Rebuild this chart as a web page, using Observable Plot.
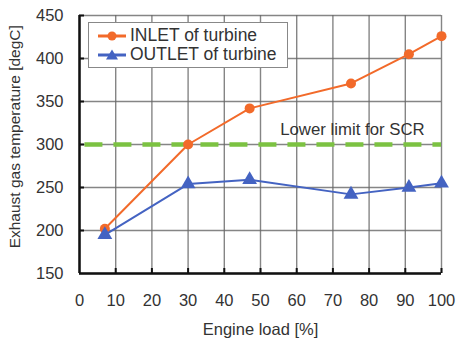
<!DOCTYPE html>
<html><head><meta charset="utf-8">
<script src="https://cdn.jsdelivr.net/npm/d3@7"></script>
<script src="https://cdn.jsdelivr.net/npm/@observablehq/plot@0.6"></script>
<style>
body{margin:0;background:#fff;}
#wrap{position:relative;width:458px;height:341px;font-family:"Liberation Sans",Arial,sans-serif;}
#legend{position:absolute;left:88px;top:22px;width:200px;height:46px;border:1.5px solid #888;background:#fff;box-sizing:border-box;font-size:17.5px;color:#333;}
#legend div{position:absolute;left:8px;display:flex;align-items:center;height:19px;white-space:nowrap;}
#legend svg{margin-right:3px;}
</style>
</head><body>
<div id="wrap"></div>
<script>
const load = [7, 30, 47, 75, 91, 100];
const inlet = [202, 300, 342, 371, 405, 426];
const outlet = [195, 254, 259, 242, 250, 255];
const seriesNames = ["INLET of turbine", "OUTLET of turbine"];
const limitValue = 300;
const limitLabel = "Lower limit for SCR";
const xLabel = "Engine load [%]";
const yLabel = "Exhaust gas temperature [degC]";
const xTicks = [0,10,20,30,40,50,60,70,80,90,100];
const yTicks = [150,200,250,300,350,400,450];

const orange = "#f26a2a", blue = "#4463c2", green = "#7cc242";
const inletData = load.map((x,i)=>({x, y: inlet[i]}));
const outletData = load.map((x,i)=>({x, y: outlet[i]}));

const chart = Plot.plot({
  width: 458, height: 341,
  marginLeft: 79, marginRight: 17, marginTop: 15, marginBottom: 68,
  style: {fontFamily: '"Liberation Sans", Arial, sans-serif', fontSize: "16px", color: "#333", background: "#fff"},
  x: {type: "linear", domain: [0, 100]},
  y: {type: "linear", domain: [150, 450]},
  marks: [
    Plot.gridX(xTicks, {stroke: "#666", strokeOpacity: 0.8, strokeWidth: 1.4}),
    Plot.gridY(yTicks, {stroke: "#666", strokeOpacity: 0.8, strokeWidth: 1.4}),
    Plot.ruleY([limitValue], {x1: 1.5, x2: 100, stroke: green, strokeWidth: 4.5, strokeDasharray: "18,11"}),
    Plot.text([limitLabel], {x: [75.4], y: [limitValue], dy: -15, fill: "#333", fontSize: 16.8, text: d => d}),
    Plot.line(inletData, {x: "x", y: "y", stroke: orange, strokeWidth: 2}),
    Plot.dot(inletData, {x: "x", y: "y", fill: orange, r: 5}),
    Plot.line(outletData, {x: "x", y: "y", stroke: blue, strokeWidth: 2}),
    Plot.dot(outletData, {x: "x", y: "y", fill: blue, symbol: "triangle", r: 5.5}),
    Plot.ruleX([0], {stroke: "#111", strokeWidth: 2.5}),
    Plot.ruleY([150], {stroke: "#111", strokeWidth: 2.5}),
    Plot.axisX({ticks: xTicks, tickSize: 0, tickPadding: 21, fontSize: 16.5, label: xLabel, labelAnchor: "center", labelOffset: 61, labelArrow: "none"}),
    Plot.axisX({ticks: xTicks.slice(1), tickSize: -5, text: null, label: null, stroke: "#111", strokeWidth: 2}),
    Plot.axisY({ticks: yTicks, tickSize: 0, tickPadding: 16, fontSize: 16.5, label: null}),
    Plot.axisY({ticks: yTicks.slice(1), tickSize: -5, text: null, label: null, stroke: "#111", strokeWidth: 2}),
    Plot.text([yLabel], {frameAnchor: "left", y: [309], rotate: -90, dx: -64, textAnchor: "middle", lineAnchor: "middle", fontSize: 15.5, fill: "#333", text: d => d}),
  ]
});
document.getElementById("wrap").appendChild(chart);

const legend = document.createElement("div");
legend.id = "legend";
const sym = (color, shape) => `<svg width="30" height="14"><line x1="1" y1="7" x2="29" y2="7" stroke="${color}" stroke-width="3"/>${shape==="circle" ? `<circle cx="15" cy="7" r="4.5" fill="${color}"/>` : `<path d="M15,1.5L21,11.5L9,11.5Z" fill="${color}"/>`}</svg>`;
legend.innerHTML = `<div style="top:3px">${sym(orange,"circle")}${seriesNames[0]}</div><div style="top:22px">${sym(blue,"triangle")}${seriesNames[1]}</div>`;
document.getElementById("wrap").appendChild(legend);
</script>
</body></html>
